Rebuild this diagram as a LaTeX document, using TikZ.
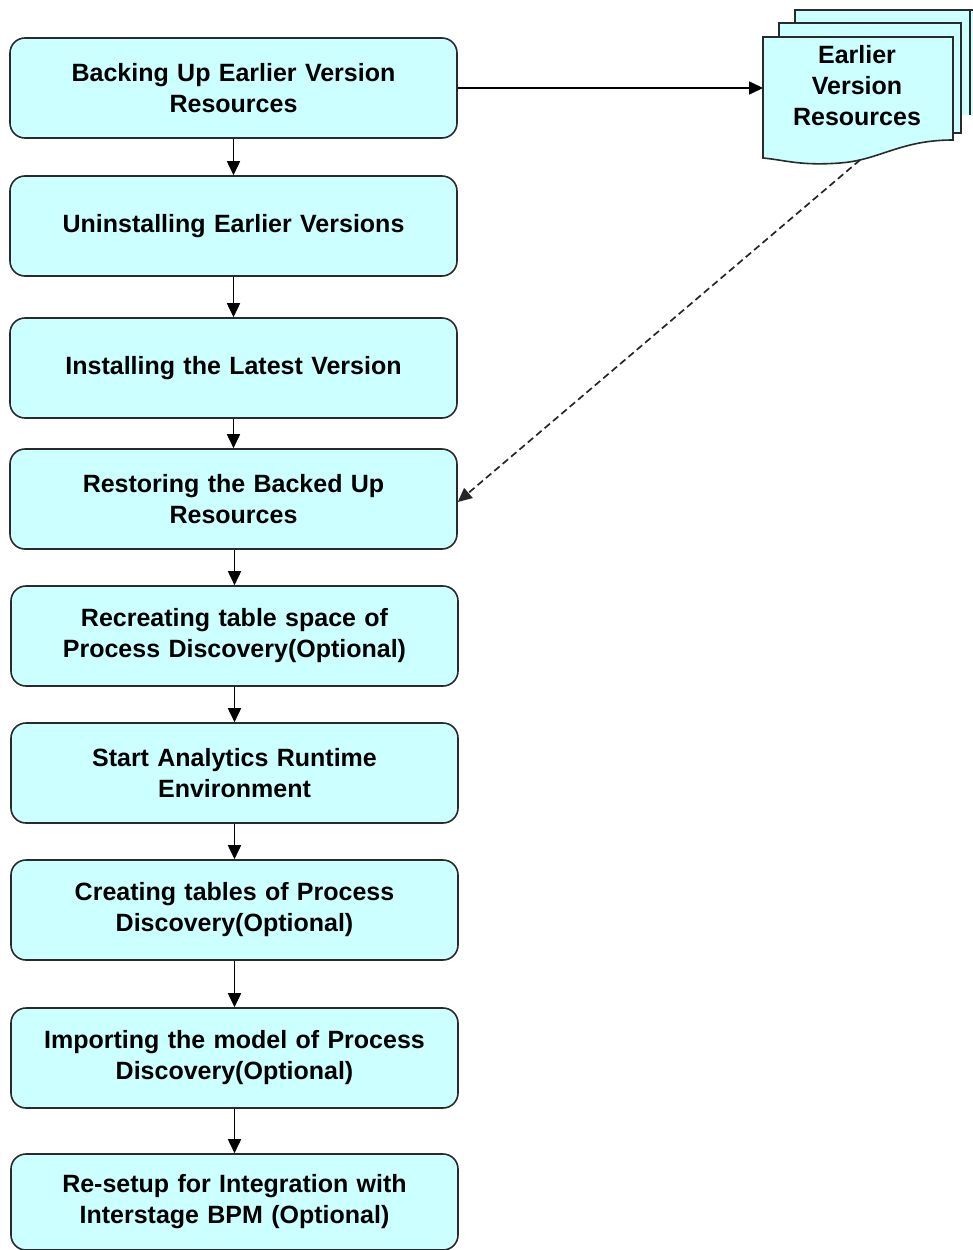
\documentclass[tikz,border=0pt]{standalone}
\usepackage{fontspec}
\setmainfont{Liberation Sans}
\usetikzlibrary{arrows.meta}
\definecolor{boxfill}{HTML}{CCFFFF}
\definecolor{edge}{HTML}{2A2A2A}
\tikzset{
  txt/.style={font=\fontsize{25}{31}\selectfont\bfseries},
  stepbox/.style={draw=edge, line width=1.6pt, fill=boxfill, rounded corners=15pt,
    minimum width=447pt, minimum height=100pt, text width=440pt, align=center,
    inner sep=0pt, txt},
  sheet/.style={draw=edge, line width=1.6pt, fill=boxfill},
  flow/.style={draw=black, line width=1.7pt, -{Triangle[length=14pt,width=13pt]}},
  dflow/.style={draw=black!85, line width=1.7pt, dash pattern=on 7pt off 4pt, -{Triangle[length=14pt,width=13pt]}}
}
\begin{document}
\begin{tikzpicture}[x=1pt,y=-1pt]
\useasboundingbox (0,0) rectangle (973,1250);
\node[stepbox] (b1) at (233.5,88) {Backing Up Earlier Version\\Resources};
\node[stepbox] (b2) at (233.5,226) {Uninstalling Earlier Versions};
\node[stepbox] (b3) at (233.5,368) {Installing the Latest Version};
\node[stepbox] (b4) at (233.5,499) {Restoring the Backed Up\\Resources};
\node[stepbox] (b5) at (234.5,636) {Recreating table space of\\Process Discovery(Optional)};
\node[stepbox] (b6) at (234.5,773) {Start Analytics Runtime\\Environment};
\node[stepbox] (b7) at (234.5,910) {Creating tables of Process\\Discovery(Optional)};
\node[stepbox] (b8) at (234.5,1058) {Importing the model of Process\\Discovery(Optional)};
\node[stepbox, minimum height=96pt] (b9) at (234.5,1202) {Re-setup for Integration with\\Interstage BPM (Optional)};
% document stack
\fill[boxfill] (795,10) rectangle (975,115);
\draw[edge, line width=1.6pt] (795,24) -- (795,10) -- (975,10);
\draw[edge, line width=1.6pt] (970,10) -- (970,115);
\fill[boxfill] (779,23) rectangle (961,133);
\draw[edge, line width=1.6pt] (779,37) -- (779,23) -- (961,23) -- (961,133) -- (953,133);
\draw[sheet] (763,37) -- (953,37) -- (953,140)
   .. controls (900,140) and (880,160) .. (840,163)
   .. controls (800,166) and (785,160) .. (763,158) -- cycle;
\node[txt, align=center] (doc) at (857,86) {Earlier\\Version\\Resources};
\coordinate (docin) at (763,88);
\coordinate (docout) at (860,160);
% connectors
\draw[flow] (b1.east) -- (docin);
\draw[dflow] (docout) -- ([yshift=-3pt]b4.east);
\draw[flow] (b1) -- (b2);
\draw[flow] (b2) -- (b3);
\draw[flow] (b3) -- (b4);
\draw[flow] (b4.south -| b5) -- (b5);
\draw[flow] (b5) -- (b6);
\draw[flow] (b6) -- (b7);
\draw[flow] (b7) -- (b8);
\draw[flow] (b8) -- (b9);
\end{tikzpicture}
\end{document}
